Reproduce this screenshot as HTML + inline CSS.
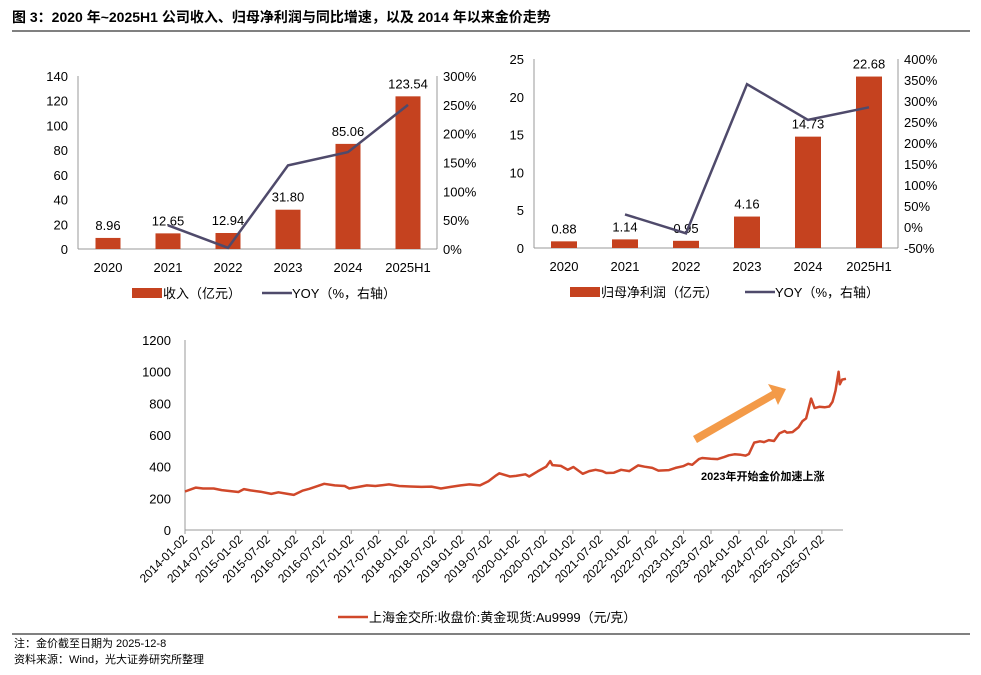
<!DOCTYPE html>
<html><head><meta charset="utf-8"><style>
body{margin:0;background:#fff;width:981px;height:670px;overflow:hidden;font-family:"Liberation Sans","Noto Sans CJK SC",sans-serif;}
svg text{font-family:"Liberation Sans","Noto Sans CJK SC",sans-serif;}
</style></head><body>
<svg id="s" width="981" height="670" xmlns="http://www.w3.org/2000/svg">
<text x="12" y="22" font-size="14" font-weight="bold" fill="#000">图 3：2020 年~2025H1 公司收入、归母净利润与同比增速，以及 2014 年以来金价走势</text>
<line x1="12" y1="31" x2="970" y2="31" stroke="#000" stroke-width="1"/>
<g id="c1"></g>
<g id="c2"></g>
<g id="c3"></g>
<line x1="12" y1="634" x2="970" y2="634" stroke="#000" stroke-width="1"/>
<text x="14" y="647" font-size="11">注：金价截至日期为 2025-12-8</text>
<text x="14" y="663" font-size="11">资料来源：Wind，光大证券研究所整理</text>
</svg>
<script>
const years=["2020","2021","2022","2023","2024","2025H1"];
const revenue=[8.96,12.65,12.94,31.80,85.06,123.54];
const revenueYoy=[null,41,2,145,168,250];
const profit=[0.88,1.14,0.95,4.16,14.73,22.68];
const profitYoy=[null,30,-15,340,255,285];
const revTicks=[0,20,40,60,80,100,120,140];
const revYoyTicks=[0,50,100,150,200,250,300];
const profTicks=[0,5,10,15,20,25];
const profYoyTicks=[-50,0,50,100,150,200,250,300,350,400];
const goldDates=["2014-01-02","2014-02-15","2014-03-15","2014-05-01","2014-07-10","2014-09-01","2014-11-05","2014-12-20","2015-01-25","2015-03-10","2015-05-15","2015-07-25","2015-09-10","2015-11-10","2015-12-20","2016-02-15","2016-04-01","2016-07-08","2016-09-15","2016-11-20","2016-12-20","2017-02-20","2017-04-15","2017-06-10","2017-07-15","2017-09-08","2017-11-15","2018-01-25","2018-04-10","2018-06-15","2018-08-16","2018-10-20","2018-12-25","2019-02-20","2019-05-01","2019-06-25","2019-08-15","2019-09-05","2019-11-15","2019-12-25","2020-02-24","2020-03-20","2020-05-15","2020-07-10","2020-08-06","2020-08-20","2020-10-15","2020-11-30","2021-01-06","2021-03-08","2021-04-20","2021-06-01","2021-07-15","2021-08-10","2021-09-30","2021-11-16","2022-01-10","2022-03-08","2022-04-20","2022-06-10","2022-07-20","2022-09-28","2022-11-10","2022-12-30","2023-02-02","2023-02-28","2023-04-13","2023-05-04","2023-06-30","2023-08-15","2023-09-28","2023-10-27","2023-12-04","2024-01-15","2024-02-15","2024-03-08","2024-04-12","2024-05-20","2024-06-15","2024-07-17","2024-08-20","2024-09-25","2024-10-30","2024-11-14","2024-12-20","2025-01-30","2025-02-24","2025-03-20","2025-04-22","2025-05-15","2025-06-15","2025-07-20","2025-08-20","2025-09-10","2025-09-30","2025-10-20","2025-10-28","2025-11-12","2025-12-08"];
const goldPrices=[243,258,268,262,262,252,245,240,258,250,242,228,238,228,222,248,260,292,282,278,262,272,282,278,282,288,278,275,272,274,262,272,282,288,282,308,345,358,338,342,352,338,370,400,435,410,405,380,398,355,372,380,372,360,362,380,372,408,400,392,375,378,392,403,418,412,448,455,450,448,462,472,478,475,470,480,552,560,555,568,562,610,625,615,618,650,688,705,830,770,778,775,780,810,880,1000,920,950,955];
const goldTicks=[0,200,400,600,800,1000,1200];
const goldXLabels=["2014-01-02","2014-07-02","2015-01-02","2015-07-02","2016-01-02","2016-07-02","2017-01-02","2017-07-02","2018-01-02","2018-07-02","2019-01-02","2019-07-02","2020-01-02","2020-07-02","2021-01-02","2021-07-02","2022-01-02","2022-07-02","2023-01-02","2023-07-02","2024-01-02","2024-07-02","2025-01-02","2025-07-02"];

const NS="http://www.w3.org/2000/svg";
function mk(parent,tag,attrs,text){const e=document.createElementNS(NS,tag);for(const k in attrs)e.setAttribute(k,attrs[k]);if(text!==undefined)e.textContent=text;parent.appendChild(e);return e;}
const BAR="#C5421F",LINE="#4F4A6B";

function barChart(g,cfg){
  const {x0,x1,yTop,yBot,lMax,lMin,rMax,rMin,c0,step,bw,vals,yoy,lt,rt,legend,lx,lgap}=cfg;
  const yL=v=>yBot-(v-lMin)/(lMax-lMin)*(yBot-yTop);
  const yR=v=>yBot-(v-rMin)/(rMax-rMin)*(yBot-yTop);
  const xC=i=>c0+i*step;
  let e=mk(g,'line',{x1:x0,y1:yTop,x2:x0,y2:yBot,stroke:'#999'});
  
  e=mk(g,'line',{x1:x1,y1:yTop,x2:x1,y2:yBot,stroke:'#999'});
  
  e=mk(g,'line',{x1:x0,y1:yBot,x2:x1,y2:yBot,stroke:'#999'});
  
  lt.forEach(t=>{e=mk(g,'text',{x:x0-10,y:yL(t)+5,'font-size':13,'text-anchor':'end'},String(t));
    });
  rt.forEach(t=>{e=mk(g,'text',{x:x1+6,y:yR(t)+5,'font-size':13},t+'%');
    });
  vals.forEach((v,i)=>{
    e=mk(g,'rect',{x:xC(i)-bw/2,y:yL(v),width:bw,height:yBot-yL(v),fill:BAR});
    
    e=mk(g,'text',{x:xC(i),y:yL(v)-8,'font-size':13,'text-anchor':'middle'},v.toFixed(2));
    
    e=mk(g,'text',{x:xC(i),y:yBot+23,'font-size':13,'text-anchor':'middle'},years[i]);
    
  });
  const pts=[];yoy.forEach((v,i)=>{if(v!==null)pts.push(xC(i)+','+yR(v));});
  e=mk(g,'polyline',{points:pts.join(' '),fill:'none',stroke:LINE,'stroke-width':2.5});
  
  const ly=yBot+44;
  e=mk(g,'rect',{x:lx,y:ly-5,width:30,height:10,fill:BAR});
  
  e=mk(g,'text',{x:lx+31,y:ly+5,'font-size':13},legend);
  
  e=mk(g,'line',{x1:lx+lgap,y1:ly,x2:lx+lgap+30,y2:ly,stroke:LINE,'stroke-width':2.5});
  
  e=mk(g,'text',{x:lx+lgap+30,y:ly+5,'font-size':13},'YOY（%，右轴）');
  
}
barChart(document.getElementById('c1'),{x0:78,x1:437,yTop:76,yBot:249,lMax:140,lMin:0,rMax:300,rMin:0,c0:108,step:60,bw:25,vals:revenue,yoy:revenueYoy,lt:revTicks,rt:revYoyTicks,legend:'收入（亿元）',lx:132,lgap:130});
barChart(document.getElementById('c2'),{x0:534,x1:898,yTop:59,yBot:248,lMax:25,lMin:0,rMax:400,rMin:-50,c0:564,step:61,bw:26,vals:profit,yoy:profitYoy,lt:profTicks,rt:profYoyTicks,legend:'归母净利润（亿元）',lx:570,lgap:175});

(function(){
  const g=document.getElementById('c3');
  const x0=185,x1=843,yTop=340,yBot=530;
  const t0=Date.parse("2014-01-02"),yr=365.25*864e5;
  const xD=d=>x0+(Date.parse(d)-t0)/yr*55.4;
  const yV=v=>yBot-v/1200*(yBot-yTop);
  let e=mk(g,'line',{x1:x0,y1:yTop,x2:x0,y2:yBot,stroke:'#999'});
  
  e=mk(g,'line',{x1:x0,y1:yBot,x2:x1,y2:yBot,stroke:'#999'});
  
  goldTicks.forEach(t=>{e=mk(g,'text',{x:x0-14,y:yV(t)+5,'font-size':13,'text-anchor':'end'},String(t));
    });
  goldXLabels.forEach(d=>{const x=xD(d);
    e=mk(g,'line',{x1:x,y1:yBot,x2:x,y2:yBot+4,stroke:'#999'});
    
    e=mk(g,'text',{x:0,y:0,'font-size':12,'text-anchor':'end',transform:`translate(${x+3},${yBot+10}) rotate(-45)`},d);
    });
  const pts=goldDates.map((d,i)=>xD(d).toFixed(1)+','+yV(goldPrices[i]).toFixed(1));
  e=mk(g,'polyline',{points:pts.join(' '),fill:'none',stroke:'#D0482A','stroke-width':2.5,'stroke-linejoin':'round'});
  
  e=mk(g,'polygon',{points:'693,436 772,391 768,384 786,389 778,405 775,398 697,443',fill:'#F39A48'});
  
  e=mk(g,'text',{x:701,y:480,'font-size':11,'font-weight':'bold'},'2023年开始金价加速上涨');
  
  e=mk(g,'line',{x1:338,y1:617,x2:368,y2:617,stroke:'#D0482A','stroke-width':2.5});
  
  e=mk(g,'text',{x:369,y:622,'font-size':13},'上海金交所:收盘价:黄金现货:Au9999（元/克）');
  
})();
</script>
</body></html>
